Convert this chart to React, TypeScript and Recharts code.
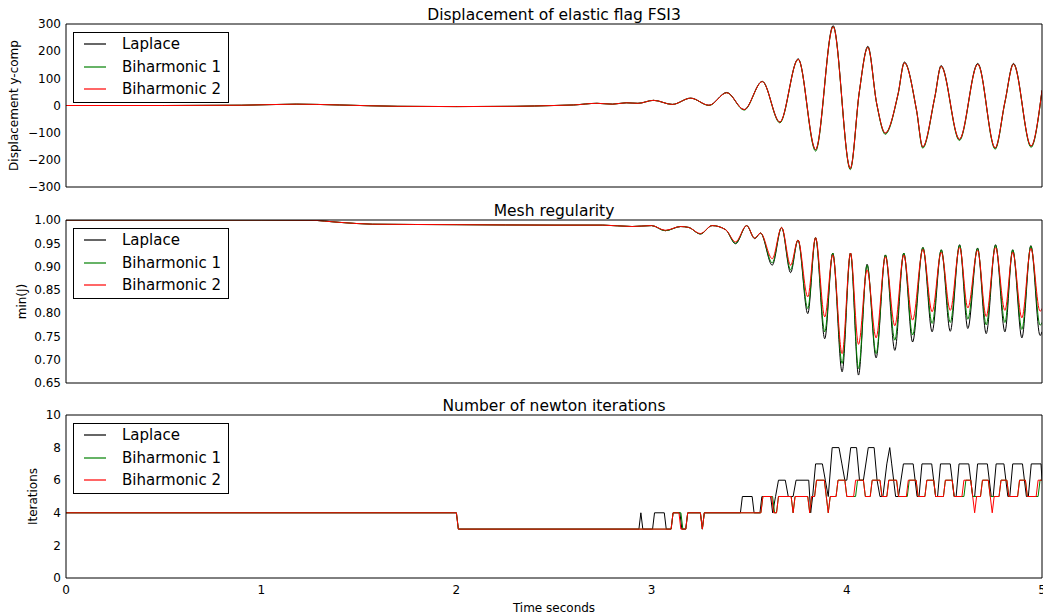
import React from "react";
import { LineChart, Line, XAxis, YAxis, Legend } from "recharts";

const FONT = "'DejaVu Sans', sans-serif";
const SERIES_NAMES = ["Laplace", "Biharmonic 1", "Biharmonic 2"];
const SERIES_COLORS = ["#000000", "#008000", "#ff0000"];
const X_TICKS = [0, 1, 2, 3, 4, 5];

// displacement of the flag tip (y-comp)
const DISP_T = [0, 0.5, 0.9, 1.18, 1.4, 1.7, 2.0, 2.3, 2.5, 2.6, 2.72, 2.8, 2.87, 2.93, 3.01, 3.106, 3.2, 3.294, 3.385, 3.474, 3.567, 3.657, 3.751, 3.84, 3.93, 4.018, 4.064, 4.108, 4.153, 4.197, 4.263, 4.295, 4.357, 4.389, 4.451, 4.483, 4.577, 4.671, 4.76, 4.81, 4.854, 4.944, 5.0];
const DISP_LAPLACE = [0, 0, 1, 5, 2, -3, -4, -3, 0, 2, 8, 5, 10, 8, 19, 4, 27, 1, 48, -15, 89, -61, 172, -163, 294, -232, 50, 218, 8, -102, 44, 160, -16, -153, 32, 147, -125, 155, -157, 13, 155, -150, 56];
const DISP_BIH1 = [0, 0, 1, 5, 2, -3, -4, -3, 0, 2, 8, 5, 10, 8, 19, 4, 27, 0, 47, -17, 88, -64, 170, -168, 290, -236, 48, 214, 6, -106, 42, 157, -18, -157, 30, 144, -129, 152, -161, 11, 152, -154, 54];
const DISP_BIH2 = [0, 0, 1, 5, 2, -3, -4, -3, 0, 2, 8, 5, 10, 8, 19, 4, 27, 1, 47, -15, 88, -61, 170, -162, 290, -232, 50, 214, 8, -101, 44, 157, -16, -152, 32, 144, -124, 152, -156, 13, 152, -149, 56];
const DISP_TICKS = [-300, -200, -100, 0, 100, 200, 300];

// mesh regularity min(J)
const MESH_T = [0, 1.0, 1.25, 1.4, 1.57, 2.0, 2.5, 2.75, 2.9, 3.0, 3.07, 3.149, 3.19, 3.25, 3.31, 3.38, 3.43, 3.487, 3.528, 3.558, 3.618, 3.666, 3.712, 3.75, 3.8, 3.84, 3.887, 3.928, 3.976, 4.019, 4.06, 4.104, 4.15, 4.198, 4.246, 4.292, 4.337, 4.39, 4.437, 4.484, 4.53, 4.578, 4.62, 4.67, 4.714, 4.762, 4.81, 4.85, 4.897, 4.943, 4.99, 5.0];
const MESH_LAPLACE = [1.0, 1.0, 0.9995, 0.995, 0.991, 0.99, 0.989, 0.989, 0.986, 0.988, 0.977, 0.986, 0.984, 0.97, 0.988, 0.979, 0.949, 0.988, 0.96, 0.972, 0.903, 0.984, 0.887, 0.957, 0.799, 0.962, 0.745, 0.929, 0.674, 0.929, 0.667, 0.905, 0.704, 0.925, 0.72, 0.929, 0.738, 0.941, 0.76, 0.936, 0.761, 0.947, 0.767, 0.94, 0.756, 0.947, 0.76, 0.936, 0.747, 0.945, 0.752, 0.76];
const MESH_BIH1 = [1.0, 1.0, 0.9995, 0.995, 0.991, 0.99, 0.989, 0.989, 0.986, 0.988, 0.977, 0.986, 0.984, 0.97, 0.988, 0.979, 0.95, 0.988, 0.961, 0.972, 0.908, 0.984, 0.893, 0.957, 0.81, 0.962, 0.76, 0.929, 0.692, 0.929, 0.681, 0.903, 0.713, 0.925, 0.742, 0.929, 0.753, 0.941, 0.778, 0.936, 0.78, 0.946, 0.787, 0.939, 0.775, 0.946, 0.78, 0.936, 0.765, 0.944, 0.774, 0.78];
const MESH_BIH2 = [1.0, 1.0, 0.9995, 0.995, 0.991, 0.99, 0.989, 0.989, 0.986, 0.988, 0.978, 0.986, 0.984, 0.971, 0.988, 0.979, 0.953, 0.988, 0.961, 0.972, 0.917, 0.984, 0.903, 0.957, 0.835, 0.962, 0.792, 0.925, 0.713, 0.929, 0.733, 0.893, 0.747, 0.921, 0.773, 0.925, 0.785, 0.937, 0.803, 0.931, 0.806, 0.941, 0.811, 0.935, 0.793, 0.941, 0.806, 0.931, 0.79, 0.939, 0.804, 0.81];
const MESH_TICKS = [0.65, 0.7, 0.75, 0.8, 0.85, 0.9, 0.95, 1.0];

// newton iterations, [time, iterations] at every change of level
const ITER_LAPLACE = [[0, 4], [2.0, 4], [2.01, 3], [2.935, 3], [2.945, 4], [2.955, 3], [3.005, 3], [3.015, 4], [3.065, 4], [3.075, 3], [3.1, 3], [3.11, 4], [3.145, 4], [3.155, 3], [3.175, 3], [3.185, 4], [3.25, 4], [3.26, 3], [3.27, 4], [3.455, 4], [3.465, 5], [3.515, 5], [3.525, 4], [3.555, 4], [3.565, 5], [3.61, 5], [3.62, 4], [3.635, 5], [3.65, 6], [3.685, 6], [3.7, 5], [3.725, 5], [3.74, 6], [3.805, 6], [3.815, 4], [3.825, 5], [3.84, 7], [3.875, 7], [3.89, 6], [3.905, 5], [3.925, 8], [3.96, 8], [3.975, 7], [3.99, 6], [4.0, 6], [4.02, 8], [4.05, 8], [4.065, 6], [4.085, 6], [4.11, 8], [4.14, 8], [4.155, 6], [4.17, 5], [4.185, 5], [4.205, 7], [4.22, 8], [4.23, 7], [4.25, 5], [4.265, 5], [4.29, 7], [4.34, 7], [4.36, 5], [4.37, 5], [4.385, 7], [4.435, 7], [4.455, 5], [4.465, 5], [4.48, 7], [4.53, 7], [4.55, 5], [4.56, 5], [4.575, 7], [4.625, 7], [4.645, 5], [4.655, 5], [4.67, 7], [4.72, 7], [4.74, 5], [4.75, 5], [4.765, 7], [4.805, 7], [4.825, 5], [4.835, 5], [4.85, 7], [4.9, 7], [4.92, 5], [4.93, 5], [4.945, 7], [4.995, 7], [5.0, 6]];
const ITER_BIH1 = [[0, 4], [2.0, 4], [2.01, 3], [3.1, 3], [3.11, 4], [3.15, 4], [3.16, 3], [3.175, 3], [3.185, 4], [3.25, 4], [3.26, 3], [3.27, 4], [3.56, 4], [3.57, 5], [3.62, 5], [3.63, 4], [3.64, 4], [3.65, 5], [3.715, 5], [3.725, 4], [3.735, 5], [3.8, 5], [3.81, 4], [3.82, 5], [3.835, 5], [3.845, 6], [3.885, 6], [3.895, 5], [3.905, 4], [3.915, 5], [3.945, 5], [3.955, 6], [3.99, 6], [4.0, 5], [4.045, 5], [4.055, 6], [4.085, 6], [4.095, 5], [4.12, 5], [4.13, 6], [4.17, 6], [4.18, 5], [4.205, 5], [4.215, 6], [4.255, 6], [4.265, 5], [4.31, 5], [4.32, 6], [4.355, 6], [4.365, 5], [4.4, 5], [4.41, 6], [4.445, 6], [4.455, 5], [4.495, 5], [4.505, 6], [4.54, 6], [4.55, 5], [4.6, 5], [4.61, 6], [4.635, 6], [4.645, 5], [4.685, 5], [4.695, 6], [4.725, 6], [4.735, 5], [4.78, 5], [4.79, 6], [4.82, 6], [4.83, 5], [4.875, 5], [4.885, 6], [4.915, 6], [4.925, 5], [4.98, 5], [4.99, 6], [5.0, 6]];
const ITER_BIH2 = [[0, 4], [2.0, 4], [2.01, 3], [3.1, 3], [3.11, 4], [3.14, 4], [3.15, 3], [3.175, 3], [3.185, 4], [3.25, 4], [3.26, 3], [3.27, 4], [3.56, 4], [3.57, 5], [3.615, 5], [3.625, 4], [3.64, 4], [3.65, 5], [3.715, 5], [3.725, 4], [3.735, 5], [3.8, 5], [3.81, 4], [3.82, 5], [3.835, 5], [3.845, 6], [3.885, 6], [3.895, 5], [3.905, 4], [3.915, 5], [3.945, 5], [3.955, 6], [3.99, 6], [4.0, 5], [4.035, 5], [4.045, 6], [4.085, 6], [4.095, 5], [4.12, 5], [4.13, 6], [4.17, 6], [4.18, 5], [4.205, 5], [4.215, 6], [4.255, 6], [4.265, 5], [4.305, 5], [4.315, 6], [4.355, 6], [4.365, 5], [4.4, 5], [4.41, 6], [4.445, 6], [4.455, 5], [4.495, 5], [4.505, 6], [4.54, 6], [4.55, 5], [4.59, 5], [4.6, 6], [4.635, 6], [4.645, 5], [4.655, 4], [4.665, 5], [4.685, 5], [4.695, 6], [4.725, 6], [4.735, 5], [4.745, 4], [4.755, 5], [4.78, 5], [4.79, 6], [4.82, 6], [4.83, 5], [4.875, 5], [4.885, 6], [4.915, 6], [4.925, 5], [4.97, 5], [4.98, 6], [5.0, 6]];
const ITER_TICKS = [0, 2, 4, 6, 8, 10];

type Pt = { t: number; v: number };
const toRows = (t: number[], v: number[]): Pt[] => t.map((x, i) => ({ t: x, v: v[i] }));
const fromPairs = (p: number[][]): Pt[] => p.map(([t, v]) => ({ t, v }));

const minus = (v: number) => String(v).replace("-", "\u2212");

const tickStyle = { fill: "#000", fontSize: 12, fontFamily: FONT };

// legend rows sit 22-23px apart inside the box
const ROW_Y = [12, 35, 57];

function LegendBox() {
  return (
    <div
      style={{
        position: "relative",
        width: 156,
        height: 71,
        border: "1px solid #000",
        boxSizing: "border-box",
        background: "#fff",
        fontFamily: FONT,
        fontSize: 15,
        color: "#000",
      }}
    >
      <svg width={156} height={71} style={{ position: "absolute", left: -1, top: -1 }}>
        {SERIES_COLORS.map((c, i) => (
          <line key={c} x1={11} x2={33} y1={ROW_Y[i]} y2={ROW_Y[i]} stroke={c} strokeWidth={1.2} />
        ))}
      </svg>
      {SERIES_NAMES.map((n, i) => (
        <div
          key={n}
          style={{ position: "absolute", left: 48, top: ROW_Y[i] - 11, lineHeight: "20px", whiteSpace: "nowrap" }}
        >
          {n}
        </div>
      ))}
    </div>
  );
}

const yLabel = (text: string, x: number) => (props: any) => {
  const vb = props.viewBox;
  const cy = vb.y + vb.height / 2;
  return (
    <text
      x={x}
      y={cy}
      transform={`rotate(-90 ${x} ${cy})`}
      textAnchor="middle"
      dominantBaseline="central"
      fill="#000"
      fontSize={12}
      fontFamily={FONT}
    >
      {text}
    </text>
  );
};

type PanelProps = {
  top: number;
  height: number;
  title: string;
  label: string;
  labelX: number;
  domain: [number, number];
  ticks: number[];
  fmt: (v: number) => string;
  series: Pt[][];
  curve: "monotone" | "linear";
  showX?: boolean;
};

function Panel(p: PanelProps) {
  const frame = { stroke: "#000", strokeWidth: 1 };
  const xCommon = {
    dataKey: "t",
    type: "number" as const,
    domain: [0, 5],
    ticks: X_TICKS,
    interval: 0,
    allowDataOverflow: true,
  };
  const yCommon = {
    type: "number" as const,
    domain: p.domain,
    ticks: p.ticks,
    interval: 0,
    allowDataOverflow: true,
  };
  return (
    <div style={{ position: "absolute", left: 0, top: p.top }}>
      <LineChart width={1043} height={p.height} margin={{ top: 24, right: 1, bottom: p.showX ? 0 : 8, left: 0 }}>
        {/* inward ticks + frame */}
        <XAxis {...xCommon} xAxisId="x" orientation="bottom" mirror height={1} tick={false} tickSize={4} axisLine={frame} tickLine={frame} />
        <XAxis
          {...xCommon}
          xAxisId="top"
          orientation="top"
          mirror
          height={1}
          tick={false}
          tickSize={4}
          axisLine={frame}
          tickLine={frame}
          label={{ value: p.title, position: "top", offset: 4, fill: "#000", fontSize: 15.5, fontFamily: FONT }}
        />
        {p.showX && (
          <XAxis
            {...xCommon}
            xAxisId="lab"
            orientation="bottom"
            height={38}
            tickLine={false}
            axisLine={false}
            tickSize={0}
            tickMargin={7}
            tick={tickStyle}
            label={{ value: "Time seconds", position: "insideBottom", offset: 4, fill: "#000", fontSize: 12, fontFamily: FONT }}
          />
        )}
        <YAxis
          {...yCommon}
          yAxisId="y"
          width={66}
          tickLine={false}
          axisLine={false}
          tickSize={0}
          tickMargin={5}
          tickFormatter={p.fmt}
          tick={tickStyle}
          label={{ content: yLabel(p.label, p.labelX) }}
        />
        <YAxis {...yCommon} yAxisId="yl" mirror width={1} tick={false} tickSize={4} axisLine={frame} tickLine={frame} />
        <YAxis {...yCommon} yAxisId="yr" orientation="right" mirror width={1} tick={false} tickSize={4} axisLine={frame} tickLine={frame} />
        <Legend
          layout="vertical"
          align="center"
          verticalAlign="middle"
          wrapperStyle={{ left: 73, top: 32, width: 156, height: 71 }}
          content={() => <LegendBox />}
        />
        {/* hidden carriers so the frame axes get a domain */}
        <Line xAxisId="top" yAxisId="yl" data={p.series[0]} dataKey="v" stroke="none" dot={false} activeDot={false} legendType="none" isAnimationActive={false} />
        <Line xAxisId={p.showX ? "lab" : "top"} yAxisId="yr" data={p.series[0]} dataKey="v" stroke="none" dot={false} activeDot={false} legendType="none" isAnimationActive={false} />
        {p.series.map((d, i) => (
          <Line
            key={SERIES_NAMES[i]}
            name={SERIES_NAMES[i]}
            xAxisId="x"
            yAxisId="y"
            data={d}
            dataKey="v"
            type={p.curve}
            stroke={SERIES_COLORS[i]}
            strokeWidth={1}
            dot={false}
            activeDot={false}
            isAnimationActive={false}
          />
        ))}
      </LineChart>
    </div>
  );
}

export default function App() {
  return (
    <div style={{ position: "absolute", left: 0, top: 0, width: 1043, height: 616, background: "#fff", fontFamily: FONT }}>
      <Panel
        top={0}
        height={195}
        title="Displacement of elastic flag FSI3"
        label="Displacement y-comp"
        labelX={14}
        domain={[-300, 300]}
        ticks={DISP_TICKS}
        fmt={minus}
        curve="monotone"
        series={[toRows(DISP_T, DISP_LAPLACE), toRows(DISP_T, DISP_BIH1), toRows(DISP_T, DISP_BIH2)]}
      />
      <Panel
        top={196}
        height={195}
        title="Mesh regularity"
        label="min(J)"
        labelX={22}
        domain={[0.65, 1.0]}
        ticks={MESH_TICKS}
        fmt={(v) => v.toFixed(2)}
        curve="monotone"
        series={[toRows(MESH_T, MESH_LAPLACE), toRows(MESH_T, MESH_BIH1), toRows(MESH_T, MESH_BIH2)]}
      />
      <Panel
        top={391}
        height={225}
        title="Number of newton iterations"
        label="Iterations"
        labelX={33}
        domain={[0, 10]}
        ticks={ITER_TICKS}
        fmt={(v) => String(v)}
        curve="linear"
        showX
        series={[fromPairs(ITER_LAPLACE), fromPairs(ITER_BIH1), fromPairs(ITER_BIH2)]}
      />
    </div>
  );
}
